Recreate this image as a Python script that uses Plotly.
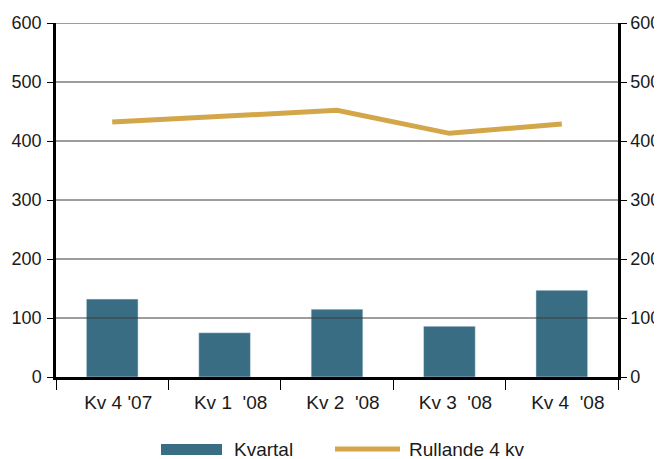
import plotly.graph_objects as go

categories = ["Kv 4 '07", "Kv 1  '08", "Kv 2  '08", "Kv 3  '08", "Kv 4  '08"]
kvartal = [132, 75, 115, 86, 147]
rullande = [432, 442, 452, 413, 429]
y_ticks = [0, 100, 200, 300, 400, 500, 600]

BAR_COLOR = "#386D84"
LINE_COLOR = "#D4A64A"
FAMILY = "Liberation Sans, Arial, sans-serif"
TEXT_COLOR = "#1a1a1a"
FONT_Y = dict(family=FAMILY, size=18, color=TEXT_COLOR)
FONT_X = dict(family=FAMILY, size=19, color=TEXT_COLOR)

OFF = 8
PL, PR, PT, PB = 56, 618, 23, 377  # plot area in page pixels
PW, PH = PR - PL, PB - PT


def px(x):
    return (x - PL) / PW


def py(y):
    return (PB - y) / PH


fig = go.Figure()
fig.add_trace(go.Bar(x=categories, y=kvartal, name="Kvartal", marker_color=BAR_COLOR,
                     width=0.46, showlegend=False))
fig.add_trace(go.Scatter(x=categories, y=rullande, name="Rullande 4 kv", mode="lines",
                         line=dict(color=LINE_COLOR, width=5), showlegend=False))
fig.add_trace(go.Scatter(x=categories, y=rullande, yaxis="y2", mode="lines",
                         line=dict(width=0), hoverinfo="skip", showlegend=False))

for v in y_ticks[1:]:
    fig.add_shape(type="line", xref="paper", x0=0, x1=1, yref="y", y0=v, y1=v,
                  line=dict(color="#3a3a3a", width=1), layer="above")

fig.add_shape(type="rect", xref="paper", yref="paper",
              x0=px(161), x1=px(222), y0=py(444), y1=py(455),
              fillcolor=BAR_COLOR, line=dict(width=0))
fig.add_shape(type="line", xref="paper", yref="paper",
              x0=px(335), x1=px(400), y0=py(449), y1=py(449),
              line=dict(color=LINE_COLOR, width=5))
fig.add_annotation(text="Kvartal", xref="paper", yref="paper", x=px(232),
                   y=py(449.5), xanchor="left", yanchor="middle", showarrow=False, font=FONT_X)
fig.add_annotation(text="Rullande 4 kv", xref="paper", yref="paper", x=px(407),
                   y=py(449.5), xanchor="left", yanchor="middle", showarrow=False, font=FONT_X)

W, H = 662 - OFF, 459 - OFF
fig.update_layout(
    width=W, height=H,
    margin=dict(l=PL - OFF, r=OFF + W - PR, t=PT - OFF, b=OFF + H - PB, autoexpand=False),
    paper_bgcolor="white", plot_bgcolor="white",
    font=FONT_Y,
    xaxis=dict(type="category", showgrid=False, showline=True, linecolor="black", linewidth=2.5,
               ticks="outside", tickson="boundaries", ticklen=10, tickcolor="black", tickwidth=1,
               tickfont=FONT_X, zeroline=False, ticklabelstandoff=6, ticklabelshift=6,
               automargin=False),
    yaxis=dict(range=[0, 600], tickvals=y_ticks, showgrid=False, showline=True, linecolor="black",
               linewidth=2.5, ticks="outside", ticklen=6, tickcolor="black", zeroline=False,
               tickfont=FONT_Y, ticklabelstandoff=2, automargin=False),
    yaxis2=dict(range=[0, 600], tickvals=y_ticks, overlaying="y", side="right", showgrid=False,
                showline=True, linecolor="black", linewidth=2.5, ticks="outside", ticklen=6,
                tickcolor="black", zeroline=False, tickfont=FONT_Y, ticklabelstandoff=0,
                automargin=False),
)

fig.write_html("out.html")
